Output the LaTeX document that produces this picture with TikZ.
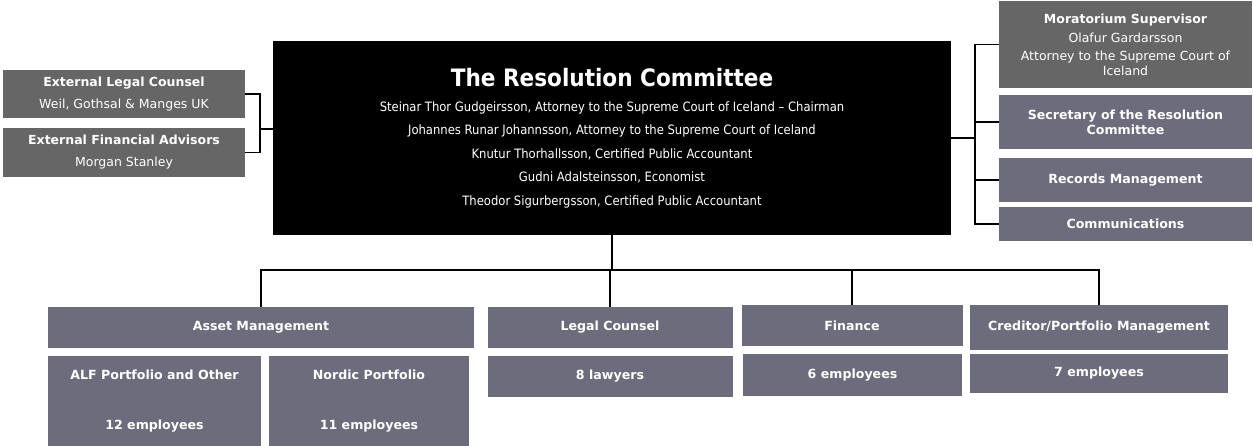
\documentclass[tikz,border=0pt]{standalone}
\usepackage{fontspec}
\setmainfont{DejaVu Sans}
\newfontfamily\condfont{DejaVu Sans Condensed}
\usepackage{tikz}
\usetikzlibrary{positioning,calc}

\definecolor{advgray}{RGB}{102,102,102}
\definecolor{unitgray}{RGB}{108,108,125}

\tikzset{
  box/.style={rectangle, inner sep=0pt, text=white, align=center,
    font=\fontsize{12.5}{15}\selectfont},
  advbox/.style={box, fill=advgray},
  unitbox/.style={box, fill=unitgray, font=\fontsize{12.6}{15}\selectfont\bfseries},
  boardbox/.style={rectangle, fill=black, text=white, align=center, inner sep=0pt,
    font=\condfont\fontsize{12.9}{23.5}\selectfont},
  link/.style={black, line width=1.5pt},
}

\begin{document}
\begin{tikzpicture}[x=1pt, y=-1pt]
    \useasboundingbox (0,0) rectangle (1253,446);

    % the committee
    \node[boardbox, minimum width=678pt, minimum height=194pt] (board) at (612,138)
      {{\bfseries\fontsize{24}{28}\selectfont The Resolution Committee}\\[1pt]
       Steinar Thor Gudgeirsson, Attorney to the Supreme Court of Iceland \textendash{} Chairman\\
       Johannes Runar Johannsson, Attorney to the Supreme Court of Iceland\\
       Knutur Thorhallsson, Certified Public Accountant\\
       Gudni Adalsteinsson, Economist\\
       Theodor Sigurbergsson, Certified Public Accountant};

    % advisors on the left
    \node[advbox, minimum width=242pt, minimum height=48pt] (extlegal) at (124,94)
      {\textbf{External Legal Counsel}\\[7pt] Weil, Gothsal \& Manges UK};
    \node[advbox, minimum width=242pt, minimum height=49pt] (extfin) at (124,152.5)
      {\textbf{External Financial Advisors}\\[7pt] Morgan Stanley};

    % staff on the right
    \node[advbox, minimum width=253pt, minimum height=87pt] (morat) at (1125.5,44.5)
      {\textbf{Moratorium Supervisor}\\[4pt] Olafur Gardarsson\\[3pt]
       Attorney to the Supreme Court of\\ Iceland};
    \node[unitbox, minimum width=253pt, minimum height=54pt] (secr) at (1125.5,122)
      {Secretary of the Resolution\\ Committee};
    \node[unitbox, minimum width=253pt, minimum height=44pt] (records) at (1125.5,180)
      {Records Management};
    \node[unitbox, minimum width=253pt, minimum height=34pt] (comms) at (1125.5,224)
      {Communications};

    % divisions
    \node[unitbox, minimum width=426pt, minimum height=41pt] (asset) at (261,327.5)
      {Asset Management};
    \node[unitbox, minimum width=213pt, minimum height=90pt] (alf) at (154.5,401)
      {ALF Portfolio and Other\\[35pt] 12 employees};
    \node[unitbox, minimum width=200pt, minimum height=90pt] (nordic) at (369,401)
      {Nordic Portfolio\\[35pt] 11 employees};
    \node[unitbox, minimum width=245pt, minimum height=41pt] (legal) at (610,327.5)
      {Legal Counsel};
    \node[unitbox, minimum width=245pt, minimum height=41pt] (lawyers) at (610,376.5)
      {8 lawyers};
    \node[unitbox, minimum width=221pt, minimum height=41pt] (finance) at (852,325.5)
      {Finance};
    \node[unitbox, minimum width=219pt, minimum height=42pt] (finemp) at (852.5,375)
      {6 employees};
    \node[unitbox, minimum width=258pt, minimum height=45pt] (creditor) at (1099,327.5)
      {Creditor/Portfolio Management};
    \node[unitbox, minimum width=258pt, minimum height=39pt] (credemp) at (1099,373.5)
      {7 employees};

    % connectors
    \coordinate (lbus) at (260,129);
    \coordinate (rbus) at (975,138);
    \coordinate (bbus) at (612,270);

    \draw[link] (lbus) -- (lbus -| board.west);
    \foreach \n in {extlegal,extfin}
      \draw[link] (lbus) |- (\n.east);

    \draw[link] (board.east |- rbus) -- (rbus);
    \foreach \n in {morat,secr,records,comms}
      \draw[link] (rbus) |- (\n.west);

    \draw[link] (board.south) -- (bbus);
    \foreach \n in {asset,legal,finance,creditor}
      \draw[link] (bbus) -| (\n.north);
\end{tikzpicture}
\end{document}
